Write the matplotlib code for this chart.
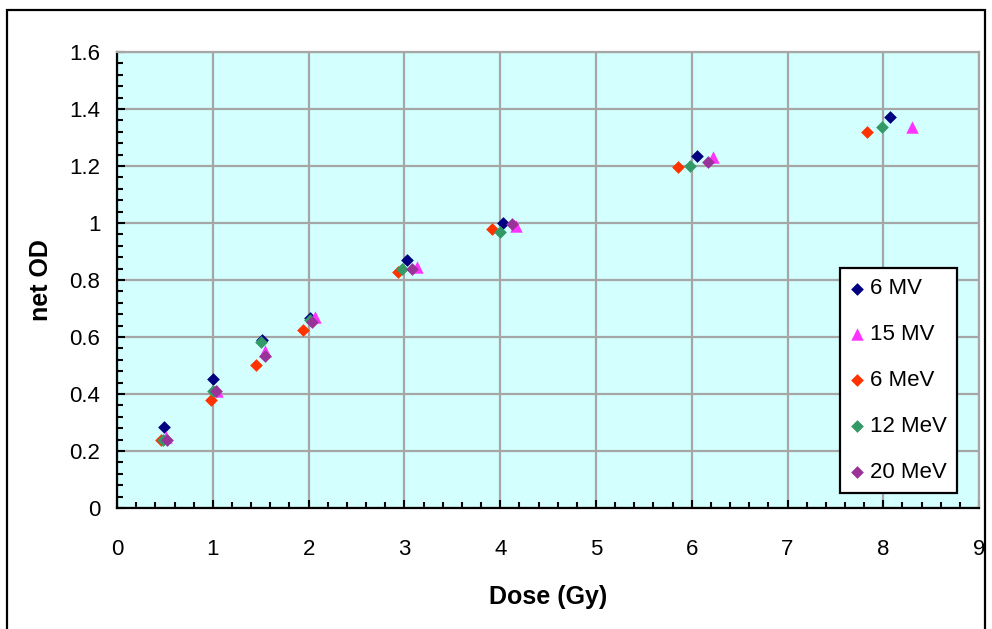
import matplotlib
matplotlib.use("Agg")
import matplotlib.pyplot as plt
from matplotlib.patches import Rectangle
from matplotlib.ticker import MultipleLocator, FuncFormatter

plt.rcParams['font.family'] = ['Liberation Sans', 'DejaVu Sans']

# values (dose offsets are how the original chart staggered them)
dose_6mv = [0.49, 1.005, 1.51, 2.01, 3.03, 4.03, 6.05, 8.07]
od_6mv = [0.285, 0.453, 0.59, 0.667, 0.87, 0.999, 1.235, 1.373]

dose_15mv = [0.51, 1.045, 1.54, 2.07, 3.13, 4.16, 6.22, 8.30]
od_15mv = [0.25, 0.41, 0.55, 0.67, 0.847, 0.99, 1.233, 1.338]

dose_6mev = [0.46, 0.98, 1.455, 1.94, 2.93, 3.91, 5.86, 7.83]
od_6mev = [0.24, 0.38, 0.50, 0.625, 0.829, 0.979, 1.198, 1.32]

dose_12mev = [0.48, 1.0, 1.50, 2.01, 2.98, 4.0, 5.985, 7.99]
od_12mev = [0.24, 0.41, 0.581, 0.66, 0.84, 0.97, 1.20, 1.336]

dose_20mev = [0.52, 1.03, 1.54, 2.04, 3.08, 4.12, 6.17]
od_20mev = [0.24, 0.41, 0.534, 0.653, 0.84, 0.996, 1.215]

fig = plt.figure(figsize=(9.92, 6.29), dpi=100)
ax = fig.add_axes([0.118, 0.1924, 0.869, 0.7249])
ax.set_facecolor('#D4FFFF')

ax.scatter(dose_6mv, od_6mv, marker='D', s=42, color='#000080', label='6 MV', zorder=3, linewidths=0)
ax.scatter(dose_15mv, od_15mv, marker='^', s=80, color='#FF33FF', label='15 MV', zorder=3, linewidths=0)
ax.scatter(dose_6mev, od_6mev, marker='D', s=42, color='#FF3300', label='6 MeV', zorder=3, linewidths=0)
ax.scatter(dose_12mev, od_12mev, marker='D', s=42, color='#339966', label='12 MeV', zorder=3, linewidths=0)
ax.scatter(dose_20mev, od_20mev, marker='D', s=42, color='#993399', label='20 MeV', zorder=3, linewidths=0)

ax.set_xlim(0, 9)
ax.set_ylim(0, 1.6)
ax.xaxis.set_major_locator(MultipleLocator(1))
ax.xaxis.set_minor_locator(MultipleLocator(0.2))
ax.yaxis.set_major_locator(MultipleLocator(0.2))
ax.yaxis.set_minor_locator(MultipleLocator(0.04))
ax.yaxis.set_major_formatter(FuncFormatter(lambda v, p: '%g' % round(v, 2)))

ax.grid(True, which='major', color='#A6A6A6', linewidth=1.6, zorder=1)
ax.set_axisbelow(True)

for side in ['top', 'right']:
    ax.spines[side].set_color('#A6A6A6')
    ax.spines[side].set_linewidth(1.6)
for side in ['left', 'bottom']:
    ax.spines[side].set_color('black')
    ax.spines[side].set_linewidth(1.6)

ax.tick_params(which='major', direction='in', length=6, width=1.5, labelsize=16, pad=12)
ax.tick_params(which='minor', direction='in', length=4, width=1.5)
ax.tick_params(axis='x', pad=22)
ax.tick_params(top=False, right=False, which='both')

ax.set_xlabel('Dose (Gy)', fontsize=18, fontweight='bold', labelpad=18)
ax.set_ylabel('net OD', fontsize=18, fontweight='bold', labelpad=12)

leg = ax.legend(loc='lower right', bbox_to_anchor=(0.9745, 0.033), fontsize=16,
                frameon=True, fancybox=False, edgecolor='black', framealpha=1,
                handlelength=0.6, handletextpad=0.3, labelspacing=1.12,
                borderpad=0.45, borderaxespad=0, scatterpoints=1)
leg.get_frame().set_linewidth(1.6)

fig.patches.append(Rectangle((7 / 992, -0.1), 978 / 992, 619 / 629 + 0.1,
                             transform=fig.transFigure, fill=False,
                             edgecolor='black', linewidth=1.6, clip_on=False))

fig.savefig('out.png', dpi=100)
